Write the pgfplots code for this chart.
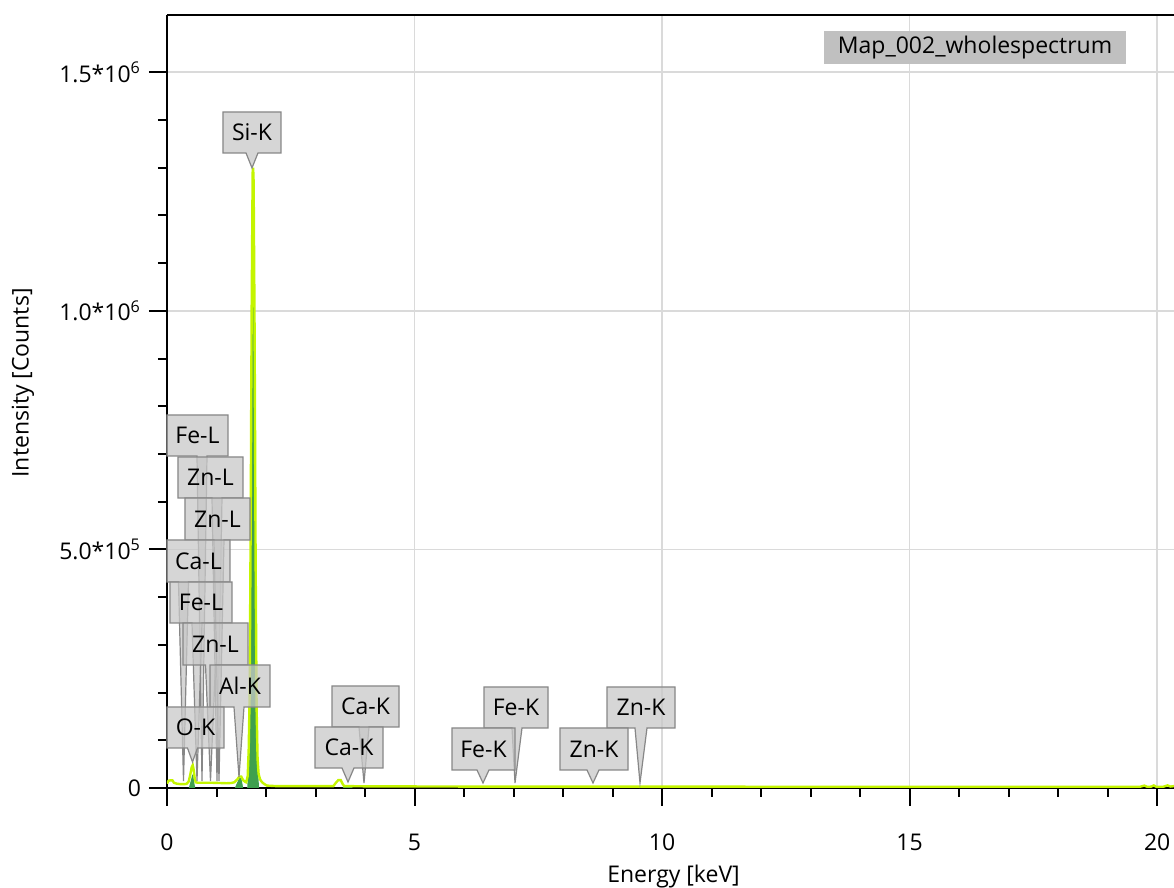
\documentclass[border=0pt]{standalone}
\usepackage{fontspec}
\setmainfont{Open Sans}
\usepackage{pgfplots}
\pgfplotsset{compat=1.18}
\definecolor{spec}{RGB}{196,245,0}
\definecolor{pk}{RGB}{62,160,78}
\definecolor{gridc}{RGB}{218,218,218}
\definecolor{cfill}{RGB}{200,200,200}
\definecolor{cdraw}{RGB}{135,135,135}
\definecolor{legf}{RGB}{192,192,192}

\pgfplotstableread{
x y
0.00 9000
0.03 15000
0.06 16000
0.11 16000
0.14 11000
0.20 9000
0.28 8000
0.36 8000
0.40 9000
0.44 14000
0.47 28000
0.50 44000
0.52 48000
0.54 38000
0.56 20000
0.58 12000
0.62 11000
0.75 11000
0.90 11000
1.05 10500
1.20 10000
1.30 10500
1.36 12000
1.42 18000
1.46 24000
1.50 24000
1.54 16000
1.58 13000
1.60 12000
1.63 25000
1.65 80000
1.67 200000
1.69 550000
1.71 1000000
1.73 1290000
1.74 1300000
1.75 1270000
1.77 950000
1.79 480000
1.81 170000
1.83 60000
1.85 30000
1.88 18000
1.92 12000
1.97 8000
2.02 5000
2.20 4000
2.60 4000
3.00 3800
3.36 4000
3.42 12000
3.46 16500
3.51 16500
3.55 8000
3.58 4000
4.00 3500
6.00 3000
8.00 3000
10.00 2800
14.00 2600
18.00 2500
19.65 2500
19.74 5000
19.80 2500
19.88 2800
19.93 5500
19.98 2600
20.12 2500
20.21 5500
20.27 3000
20.34 4000
}\spectrum

\pgfplotstableread{
x y
0.44 0
0.48 15000
0.51 28000
0.53 28000
0.55 12000
0.57 0
}\peakO

\pgfplotstableread{
x y
1.37 0
1.42 12000
1.46 21000
1.50 21000
1.54 0
}\peakAl

\pgfplotstableread{
x y
1.62 0
1.65 50000
1.67 170000
1.69 500000
1.71 950000
1.73 1250000
1.74 1260000
1.75 1230000
1.77 900000
1.79 440000
1.81 150000
1.83 50000
1.86 0
}\peakSi

\pgfplotstableread{
x y
3.55 0
3.57 5000
3.72 5000
3.75 0
}\peakCa

\newcommand{\callout}[9]{%
  \filldraw[fill=cfill, fill opacity=0.75, draw=cdraw, line width=0.6pt]
    (#2,#4) -- (#3,#4) -- (#3,#5) -- ({#8+#9},#5) -- (#6,#7) -- ({#8-#9},#5) -- (#2,#5) -- cycle;
  \node[text=black] at ({(#2+#3)/2},{(#4+#5)/2}) {#1};
}

\begin{document}
\fontsize{11.5pt}{14pt}\selectfont
\begin{tikzpicture}
\begin{axis}[
  name=ax, at={(0pt,0pt)}, anchor=south west,
  scale only axis, width=503.5pt, height=386.5pt,
  xmin=0, xmax=20.34, ymin=0, ymax=1620000,
  axis x line=box, axis y line=left,
  axis line style={-, black, line width=1pt},
  tick align=outside, tick pos=left,
  xtick={0,5,10,15,20}, xticklabels={0,5,10,15,20},
  minor x tick num=4,
  ytick={0,500000,1000000,1500000},
  yticklabels={0,{5.0*10\textsuperscript{5}},{1.0*10\textsuperscript{6}},{1.5*10\textsuperscript{6}}},
  minor y tick num=4,
  scaled ticks=false,
  major tick length=9pt, minor tick length=4.5pt,
  tick style={black, line width=1pt},
  xticklabel style={yshift=-10pt},
  grid=major, major grid style={gridc, line width=0.8pt},
  xlabel={Energy [keV]}, ylabel={Intensity [Counts]},
  xlabel style={at={(axis description cs:0.503,-0.114)}, anchor=center},
  ylabel style={at={(axis description cs:-0.143,0.524)}, anchor=center},
]
\addplot[draw=none, fill=pk] table[x=x,y=y] {\peakO} \closedcycle;
\addplot[draw=none, fill=pk] table[x=x,y=y] {\peakAl} \closedcycle;
\addplot[draw=none, fill=pk] table[x=x,y=y] {\peakSi} \closedcycle;
\addplot[draw=none, fill=pk] table[x=x,y=y] {\peakCa} \closedcycle;
\addplot[spec, line width=1.2pt, mark=none] table[x=x,y=y] {\spectrum};
\end{axis}
\begin{scope}[x=0.5pt, y=-0.5pt, shift={(-83.5pt,394pt)}]
\callout{Si-K}{223}{281}{112}{153}{252}{168}{252}{6}
\callout{Fe-L}{167}{228}{415}{456}{202}{781}{202}{5}
\callout{Zn-L}{178}{243}{457}{498}{217}{781}{217}{5}
\callout{Zn-L}{185}{250}{498}{540}{219}{781}{219}{5}
\callout{Ca-L}{167}{230}{540}{582}{183.5}{781}{183.5}{5}
\callout{Fe-L}{170}{232}{582}{623}{197}{781}{197}{5}
\callout{Zn-L}{183}{248}{623}{665}{210.5}{781}{210.5}{5}
\callout{Al-K}{210}{270}{665}{707}{239}{777}{239}{5}
\callout{O-K}{167}{224}{707}{748}{192.5}{762}{192.5}{5}
\callout{Ca-K}{332}{399}{686}{727}{364}{783}{364}{5}
\callout{Ca-K}{315}{383}{727}{768}{348}{782}{348}{6}
\callout{Fe-K}{484}{548}{687}{728}{515}{783}{517}{5}
\callout{Fe-K}{452}{515}{728}{770}{483}{783}{483}{6}
\callout{Zn-K}{607}{675}{687}{728}{640}{783}{641}{6}
\callout{Zn-K}{560}{628}{728}{770}{593}{783}{593}{6}
\fill[legf] (824,31) rectangle (1126,64);
\node at (975,47.5) {Map\_002\_wholespectrum};
\pgfresetboundingbox
\path[use as bounding box] (0,0) rectangle (1174,888);
\end{scope}
\end{tikzpicture}
\end{document}
